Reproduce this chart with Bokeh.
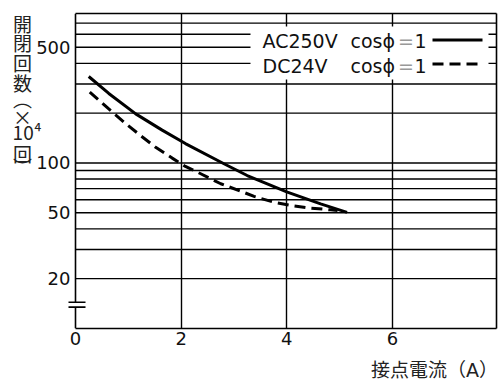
from math import log10
from bokeh.plotting import figure
from bokeh.models import (FixedTicker, Label, BoxAnnotation, LogAxis,
                          LinearAxis, Range1d, BasicTickFormatter)
from bokeh.embed import file_html
from bokeh.resources import INLINE

# ---- data ----
ac_current = [0.25, 0.63, 1.14, 1.64, 2.08, 2.81, 3.25, 4.01, 4.64, 5.14]
ac_ops = [333, 263, 198, 158, 131, 98.9, 84.0, 66.6, 56.6, 50.3]
dc_current = [0.27, 0.63, 0.95, 1.26, 1.51, 1.83, 2.08, 2.37, 2.75, 3.12,
              3.38, 3.75, 4.07, 4.39, 4.83, 4.96]
dc_ops = [268, 212, 173, 144, 125, 107, 95.3, 86.1, 74.9, 67.7,
          62.8, 58.0, 55.4, 53.6, 52.1, 51.6]
x_ticks = [0, 2, 4, 6]
x_grid = [2, 4, 6]
y_label_ticks = [20, 50, 100, 500]
y_grid = [20, 30, 40, 50, 60, 70, 80, 90, 100, 200, 300, 400, 500, 600, 700]
series_names = ["AC250V", "DC24V"]
cos_text = "cos\u03d5"
x_title = "接点電流（A）"
y_title = ["開", "閉", "回", "数", "\ufe35", "×", "10\u2074", "回", "\ufe36"]

# ---- layout (canvas pixels) ----
W, H = 500, 383
FL, FR, FT, FB = 67, 496, 13, 328      # frame edges
X0_PX, PX_PER_X = 75.0, 52.83          # where x=0 sits, px per ampere
Y_MIN, Y_MAX = 10.0, 800.0
X_START = (FL - X0_PX) / PX_PER_X
X_END = (FR - X0_PX) / PX_PER_X


def px2x(px):
    return (px - X0_PX) / PX_PER_X


def py2y(py):
    frac = (FB - py) / (FB - FT)
    return 10 ** (log10(Y_MIN) + frac * (log10(Y_MAX) - log10(Y_MIN)))


LATIN = "DejaVu Sans"
CJK = "Noto Sans CJK JP"
MIXED = "'DejaVu Sans', 'Noto Sans CJK JP'"
INK = "#111111"
LW = 1.6

p = figure(width=W, height=H, x_range=Range1d(X_START, X_END),
           y_range=Range1d(Y_MIN, Y_MAX), y_axis_type="log",
           output_backend="svg", toolbar_location=None,
           min_border_left=FL, min_border_right=W - FR,
           min_border_top=FT, min_border_bottom=H - FB,
           outline_line_color=None, background_fill_color="white",
           border_fill_color="white")

# grid: vertical lines by the grid, horizontal lines start at x = 0
p.ygrid.visible = False
p.xgrid.ticker = FixedTicker(ticks=x_grid)
p.xgrid.grid_line_color = "black"
p.xgrid.grid_line_width = 1.4
p.segment(x0=[0] * len(y_grid), x1=[X_END] * len(y_grid), y0=y_grid, y1=y_grid,
          line_color="black", line_width=1.4, level="underlay")

# bottom axis (0..)
xa = p.xaxis[0]
xa.ticker = FixedTicker(ticks=x_ticks)
xa.bounds = (0, X_END)
xa.axis_line_color = "black"
xa.axis_line_width = LW
xa.major_label_standoff = 3

# left axis: labels only (the border line is drawn at x = 0 with a break)
ya = p.yaxis[0]
ya.ticker = FixedTicker(ticks=y_label_ticks)
ya.formatter = BasicTickFormatter()
ya.major_label_overrides = {v: str(v) for v in y_label_ticks}
ya.axis_line_color = None
ya.major_label_standoff = -3

for ax in (xa, ya):
    ax.major_tick_line_color = None
    ax.minor_tick_line_color = None
    ax.major_tick_out = 0
    ax.major_tick_in = 0
    ax.major_label_text_font = LATIN
    ax.major_label_text_font_size = "18px"
    ax.major_label_text_color = INK

# frame lines top / right
top_ax = LinearAxis(ticker=FixedTicker(ticks=[]), axis_line_width=LW,
                    bounds=(0, X_END),
                    major_tick_line_color=None, minor_tick_line_color=None,
                    major_tick_out=0, major_label_standoff=0,
                    major_label_text_font_size="0px")
right_ax = LogAxis(ticker=FixedTicker(ticks=[]), axis_line_width=LW,
                   major_tick_line_color=None, minor_tick_line_color=None,
                   major_tick_out=0, major_label_standoff=0,
                   major_label_text_font_size="0px")
p.add_layout(top_ax, "above")
p.add_layout(right_ax, "right")

# y title: stacked characters on an outer left axis
title_y = [py2y(v) for v in [22.5, 41.5, 61.5, 81.5, 98, 116, 131, 152.5, 166]]
pad = "\u2002"
title_txt = [c if c.startswith("10") else c + pad for c in y_title]
title_axis = LogAxis(ticker=FixedTicker(ticks=title_y),
                     major_label_overrides={t: c for t, c in zip(title_y, title_txt)},
                     axis_line_color=None, major_tick_line_color=None,
                     minor_tick_line_color=None, major_tick_out=0,
                     major_label_standoff=-8, major_label_text_font=CJK,
                     major_label_text_font_size="19px",
                     major_label_text_color="#222222")
p.add_layout(title_axis, "left")

# x title on an outer bottom axis
xt_pos = px2x(434)
xtitle_axis = LinearAxis(ticker=FixedTicker(ticks=[xt_pos]),
                         major_label_overrides={xt_pos: x_title},
                         axis_line_color=None, major_tick_line_color=None,
                         minor_tick_line_color=None, major_tick_out=0,
                         major_label_standoff=11, major_label_text_font=MIXED,
                         major_label_text_font_size="19px",
                         major_label_text_color="#222222")
p.add_layout(xtitle_axis, "below")

# left border with axis break
b_hi, b_lo = py2y(301.8), py2y(306.6)
p.segment(x0=[0, 0], x1=[0, 0], y0=[Y_MIN, b_hi], y1=[b_lo, Y_MAX],
          line_color="black", line_width=LW)
p.segment(x0=[px2x(68)] * 2, x1=[px2x(85)] * 2, y0=[b_hi, b_lo], y1=[b_hi, b_lo],
          line_color="black", line_width=LW)

# curves
p.line(ac_current, ac_ops, line_color="black", line_width=3)
p.line(dc_current, dc_ops, line_color="black", line_width=3, line_dash="11 6")

# legend (manual, sample on the right)
p.add_layout(BoxAnnotation(left=px2x(250), right=px2x(488),
                           bottom=py2y(79), top=py2y(26),
                           fill_color="white", fill_alpha=1.0,
                           line_color=None, level="glyph"))
rows_y = [40, 65]
sample_y = [39.5, 63.5]
dashes = ["solid", "11 6"]
for name, ty, sy, dash in zip(series_names, rows_y, sample_y, dashes):
    for txt, px, align, col in [(name, 262, "left", INK), (cos_text, 350, "left", INK),
                                ("=", 405.5, "center", "#999999"), ("1", 414, "left", INK)]:
        p.add_layout(Label(x=px2x(px), y=py2y(ty), text=txt, text_align=align,
                           text_baseline="middle", text_font=LATIN,
                           text_font_size="19px", text_color=col))
    p.line([px2x(432), px2x(482)], [py2y(sy), py2y(sy)], line_color="black",
           line_width=3, line_dash=dash, level="overlay")

open("out.html", "w").write(file_html(p, INLINE))
